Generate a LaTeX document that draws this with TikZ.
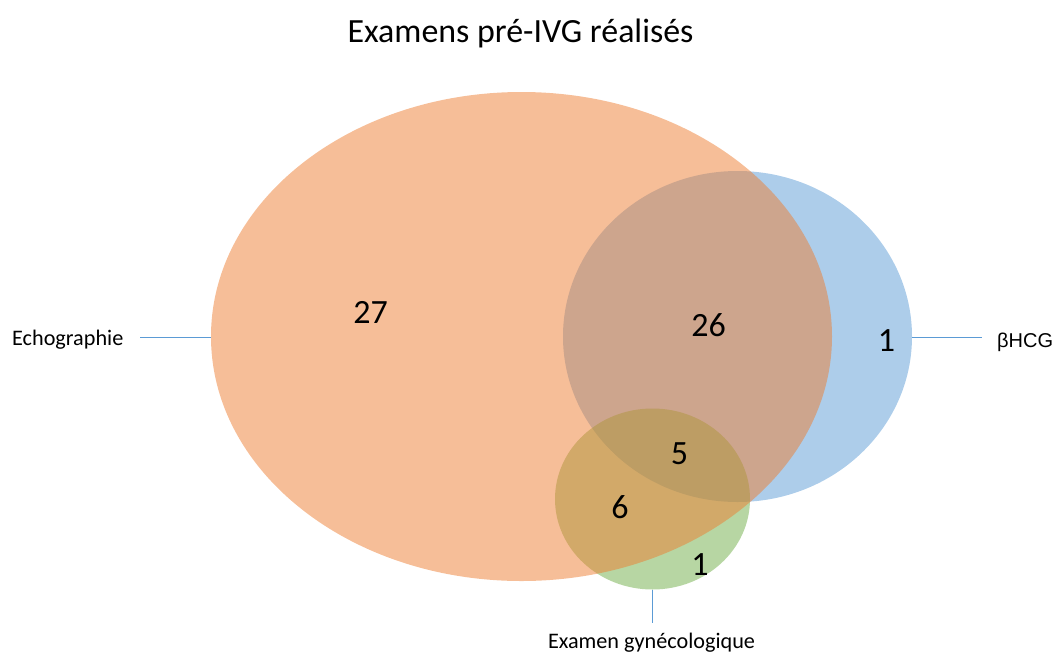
\documentclass[tikz,border=0pt]{standalone}
\usepackage{fontspec}
\setmainfont{Carlito}
\newfontfamily\arialfont{Liberation Sans}
\usetikzlibrary{shapes.geometric}
\definecolor{vorange}{RGB}{237,125,49}
\definecolor{vblue}{RGB}{91,155,213}
\definecolor{vgreen}{RGB}{112,173,71}
\tikzset{
  vset/.style={ellipse, inner sep=0pt, draw=none, fill opacity=0.5},
  numlbl/.style={anchor=base, inner sep=0pt, font=\fontsize{34}{40}\selectfont},
  setlbl/.style={inner sep=0pt, font=\fontsize{22.2}{27}\selectfont},
  leader/.style={draw=vblue, line width=0.9pt}
}
\begin{document}
\begin{tikzpicture}[x=1pt,y=-1pt]
\path[use as bounding box] (0,0) rectangle (1061,657);
% sets
\node[vset, fill=vblue, minimum width=349pt, minimum height=331pt] (hcg) at (737.5,336.5) {};
\node[vset, fill=vgreen, minimum width=195pt, minimum height=181pt] (gyn) at (652.5,499) {};
\node[vset, fill=vorange, minimum width=621pt, minimum height=489pt] (echo) at (521.5,336.5) {};
% title
\node[anchor=base, inner sep=0pt, font=\fontsize{33.9}{40}\selectfont] (title) at (520.5,42) {Examens pré-IVG réalisés};
% set labels
\node[setlbl, anchor=base west] (echoLbl) at (12,345.5) {Echographie};
\node[setlbl, anchor=base west, font=\arialfont\fontsize{20}{24}\selectfont] (hcgLbl) at (997,347.5) {βHCG};
\node[setlbl, anchor=base] (gynLbl) at (651.5,648) {Examen gynécologique};
% leaders
\coordinate (echoEnd) at (140,337.5);
\coordinate (hcgEnd) at (982,337.5);
\coordinate (gynEnd) at (652.5,623);
\draw[leader] (echo.west |- echoEnd) -- (echoEnd);
\draw[leader] (hcg.east |- hcgEnd) -- (hcgEnd);
\draw[leader] (gyn.south) -- (gynEnd);
% numbers
\node[numlbl] (n27) at (370.5,323.5) {27};
\node[numlbl] (n26) at (708.5,336.7) {26};
\node[numlbl] (n1b) at (886.5,351) {1};
\node[numlbl] (n5) at (679.5,464) {5};
\node[numlbl] (n6) at (620,518) {6};
\node[numlbl] (n1g) at (700,575) {1};
\end{tikzpicture}
\end{document}
